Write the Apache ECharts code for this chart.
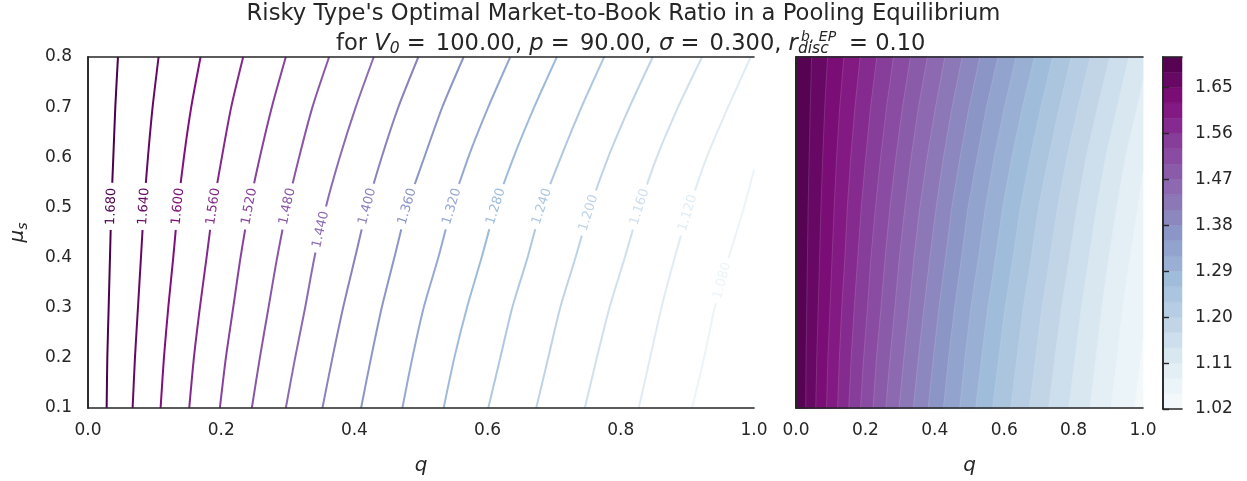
<!DOCTYPE html>
<html>
<head>
<meta charset="utf-8">
<script src="https://cdn.jsdelivr.net/npm/echarts@6/dist/echarts.min.js"></script>
<style>
html, body { margin: 0; padding: 0; background: #fff; }
#chart { width: 1247px; height: 481px; }
</style>
</head>
<body>
<div id="chart"></div>
<script>
const muRows = [0.1, 0.2, 0.3, 0.4, 0.5, 0.6, 0.7, 0.8];

// left panel: contour lines, q of each level on every mu row (null = past the right edge)
const lineLevels = [1.04, 1.08, 1.12, 1.16, 1.20, 1.24, 1.28, 1.32, 1.36, 1.40, 1.44, 1.48, 1.52, 1.56, 1.60, 1.64, 1.68];
const lineQ = [
    [0.998, null, null, null, null, null, null, null],
    [0.907, 0.925, 0.941, 0.962, 0.985, null, null, null],
    [0.827, 0.844, 0.861, 0.881, 0.903, 0.929, 0.961, 0.995],
    [0.746, 0.764, 0.783, 0.806, 0.828, 0.854, 0.886, 0.922],
    [0.673, 0.691, 0.709, 0.732, 0.754, 0.781, 0.813, 0.848],
    [0.601, 0.619, 0.637, 0.660, 0.681, 0.710, 0.741, 0.775],
    [0.534, 0.550, 0.569, 0.591, 0.612, 0.639, 0.670, 0.704],
    [0.472, 0.487, 0.504, 0.526, 0.546, 0.571, 0.601, 0.634],
    [0.410, 0.425, 0.441, 0.460, 0.479, 0.505, 0.532, 0.564],
    [0.352, 0.367, 0.383, 0.401, 0.419, 0.441, 0.466, 0.496],
    [0.297, 0.311, 0.326, 0.340, 0.357, 0.378, 0.402, 0.429],
    [0.246, 0.258, 0.271, 0.284, 0.299, 0.317, 0.337, 0.362],
    [0.198, 0.207, 0.218, 0.229, 0.242, 0.258, 0.276, 0.297],
    [0.152, 0.159, 0.168, 0.178, 0.188, 0.201, 0.215, 0.233],
    [0.109, 0.114, 0.1205, 0.128, 0.135, 0.144, 0.155, 0.169],
    [0.067, 0.0705, 0.075, 0.0795, 0.084, 0.090, 0.097, 0.106],
    [0.028, 0.029, 0.031, 0.033, 0.035, 0.038, 0.041, 0.045]
];
// mu where a line leaves through the right edge
const lineExitMu = [0.115, 0.575, null, null, null, null, null, null, null, null, null, null, null, null, null, null, null];
// mu of the inline label on each line (null = no label)
const labelMu = [null, 0.354, 0.489, 0.501, 0.489, 0.502, 0.502, 0.502, 0.502, 0.502, 0.456, 0.502, 0.502, 0.502, 0.502, 0.502, 0.502];

// right panel: filled contour band edges
const fillEdges = [1.02, 1.05, 1.08, 1.11, 1.14, 1.17, 1.20, 1.23, 1.26, 1.29, 1.32, 1.35, 1.38, 1.41, 1.44, 1.47, 1.50, 1.53, 1.56, 1.59, 1.62, 1.65, 1.68, 1.71];
// q of the inner edges (1.05 ... 1.68) on every mu row
const fillQ = [
    [0.975, 0.993, null, null, null, null, null, null],
    [0.907, 0.925, 0.941, 0.962, 0.985, null, null, null],
    [0.847, 0.864, 0.881, 0.901, 0.924, 0.949, 0.983, null],
    [0.786, 0.804, 0.822, 0.844, 0.866, 0.892, 0.925, 0.959],
    [0.728, 0.746, 0.765, 0.788, 0.810, 0.836, 0.869, 0.904],
    [0.673, 0.691, 0.709, 0.732, 0.754, 0.781, 0.813, 0.848],
    [0.619, 0.637, 0.655, 0.678, 0.699, 0.728, 0.759, 0.793],
    [0.567, 0.585, 0.603, 0.626, 0.647, 0.675, 0.706, 0.740],
    [0.518, 0.535, 0.553, 0.575, 0.596, 0.622, 0.653, 0.687],
    [0.472, 0.487, 0.504, 0.526, 0.546, 0.571, 0.601, 0.634],
    [0.425, 0.440, 0.457, 0.477, 0.496, 0.522, 0.549, 0.582],
    [0.381, 0.396, 0.412, 0.431, 0.449, 0.473, 0.499, 0.530],
    [0.338, 0.353, 0.369, 0.386, 0.404, 0.425, 0.450, 0.479],
    [0.297, 0.311, 0.326, 0.340, 0.357, 0.378, 0.402, 0.429],
    [0.259, 0.271, 0.285, 0.298, 0.314, 0.332, 0.353, 0.379],
    [0.222, 0.232, 0.245, 0.257, 0.271, 0.288, 0.307, 0.330],
    [0.186, 0.195, 0.206, 0.216, 0.229, 0.244, 0.261, 0.281],
    [0.152, 0.159, 0.168, 0.178, 0.188, 0.201, 0.215, 0.233],
    [0.120, 0.125, 0.132, 0.141, 0.148, 0.158, 0.170, 0.185],
    [0.088, 0.092, 0.098, 0.104, 0.110, 0.117, 0.126, 0.138],
    [0.057, 0.060, 0.064, 0.068, 0.072, 0.077, 0.083, 0.091],
    [0.028, 0.029, 0.031, 0.033, 0.035, 0.038, 0.041, 0.045]
];
const fillExitMu = [0.24, 0.575, 0.755, null, null, null, null, null, null, null, null, null, null, null, null, null, null, null, null, null, null, null];

const cbarTicks = [1.02, 1.11, 1.20, 1.29, 1.38, 1.47, 1.56, 1.65];

const INK = '#262626';
const FONT = 'DejaVu Sans';

// matplotlib BuPu
const BUPU = ['#f7fcfd', '#e0ecf4', '#bfd3e6', '#9ebcda', '#8c96c6', '#8c6bb1', '#88419d', '#810f7c', '#4d004b'];
function hex2rgb(h) {
    return [parseInt(h.substr(1, 2), 16), parseInt(h.substr(3, 2), 16), parseInt(h.substr(5, 2), 16)];
}
function bupu(t) {
    t = Math.max(0, Math.min(1, t));
    let s = t * (BUPU.length - 1);
    let i = Math.min(Math.floor(s), BUPU.length - 2);
    let f = s - i;
    let a = hex2rgb(BUPU[i]), b = hex2rgb(BUPU[i + 1]);
    let c = a.map((v, k) => Math.round(v + (b[k] - v) * f));
    return 'rgb(' + c.join(',') + ')';
}
const lineMin = lineLevels[0], lineMax = lineLevels[lineLevels.length - 1];
const fillMin = fillEdges[0], fillMax = fillEdges[fillEdges.length - 1];
function lineColor(i) { return bupu((lineLevels[i] - lineMin) / (lineMax - lineMin)); }
function bandColor(k) { return bupu(((fillEdges[k] + fillEdges[k + 1]) / 2 - fillMin) / (fillMax - fillMin)); }

function pathPoints(row, exitMu) {
    let pts = [];
    row.forEach((q, i) => { if (q != null) pts.push([q, muRows[i]]); });
    if (exitMu != null) pts.push([1, exitMu]);
    return pts;
}
// q of a line at a given mu, for placing its label
function qAt(row, mu) {
    for (let i = 0; i < muRows.length - 1; i++) {
        if (mu >= muRows[i] && mu <= muRows[i + 1]) {
            let f = (mu - muRows[i]) / (muRows[i + 1] - muRows[i]);
            return row[i] + (row[i + 1] - row[i]) * f;
        }
    }
    return row[0];
}

let myChart = echarts.init(document.getElementById('chart'));

function frameAxis(grid, pos, min, max) {
    return {
        type: 'value', gridIndex: grid, position: pos, min: min, max: max, z: 10,
        axisLine: { show: true, lineStyle: { color: INK, width: 1.6 } },
        axisTick: { show: false }, axisLabel: { show: false }, splitLine: { show: false }
    };
}
const tickLabel = { color: INK, fontSize: 17, fontFamily: FONT };
const qName = { color: INK, fontSize: 20, fontFamily: FONT, fontStyle: 'italic' };

let series = [];

// contour lines
lineLevels.forEach((lv, i) => {
    series.push({
        type: 'line', xAxisIndex: 0, yAxisIndex: 0,
        data: pathPoints(lineQ[i], lineExitMu[i]),
        showSymbol: false, smooth: 0.25, silent: true, animation: false, z: 3,
        lineStyle: { color: lineColor(i), width: 2 }
    });
});

// inline labels
series.push({
    type: 'custom', xAxisIndex: 0, yAxisIndex: 0, z: 5, silent: true, animation: false,
    data: labelMu.map((m, i) => [i, m]).filter(d => d[1] != null),
    renderItem: function (params, api) {
        let i = api.value(0), m = api.value(1);
        let row = lineQ[i];
        let p = api.coord([qAt(row, m), m]);
        let a = api.coord([qAt(row, m - 0.05), m - 0.05]);
        let b = api.coord([qAt(row, m + 0.05), m + 0.05]);
        let ang = Math.atan2(a[1] - b[1], b[0] - a[0]);
        return {
            type: 'text', x: p[0], y: p[1], rotation: ang,
            style: {
                text: lineLevels[i].toFixed(3), fill: lineColor(i),
                fontSize: 13, fontFamily: FONT, align: 'center', verticalAlign: 'middle',
                backgroundColor: '#fff', padding: [0, 5]
            }
        };
    }
});

// filled contour
series.push({
    type: 'custom', xAxisIndex: 2, yAxisIndex: 2, z: 2, silent: true, animation: false,
    data: fillEdges.slice(0, -1).map((e, k) => [k, e]),
    renderItem: function (params, api) {
        let k = api.value(0);
        let col = bandColor(k);
        let pts, edge = null;
        if (k === 0) {
            pts = [[0, 0.1], [1, 0.1], [1, 0.8], [0, 0.8]];
        } else {
            edge = pathPoints(fillQ[k - 1], fillExitMu[k - 1]);
            pts = [[0, 0.1]].concat(edge);
            if (fillExitMu[k - 1] != null) pts.push([1, 0.8]);
            pts.push([0, 0.8]);
        }
        let children = [{
            type: 'polygon', z2: k * 2,
            shape: { points: pts.map(p => api.coord(p)) },
            style: { fill: col, stroke: col, lineWidth: 0.5 }
        }];
        if (edge) {
            children.push({
                type: 'polyline', z2: k * 2 + 1,
                shape: { points: edge.map(p => api.coord(p)) },
                style: { fill: null, stroke: 'rgba(255,255,255,0.22)', lineWidth: 0.7 }
            });
        }
        return { type: 'group', children: children };
    }
});

// colorbar
series.push({
    type: 'custom', xAxisIndex: 4, yAxisIndex: 4, z: 2, silent: true, animation: false,
    data: fillEdges.slice(0, -1).map((e, k) => [k, e]),
    renderItem: function (params, api) {
        let k = api.value(0);
        let lo = api.coord([0, fillEdges[k]]);
        let hi = api.coord([1, fillEdges[k + 1]]);
        let col = bandColor(k);
        return {
            type: 'rect',
            shape: { x: lo[0], y: hi[1], width: hi[0] - lo[0], height: lo[1] - hi[1] },
            style: { fill: col, stroke: col, lineWidth: 0.5 }
        };
    }
});

const tN = { color: INK, fontSize: 22.6, fontFamily: FONT, fontWeight: 'normal', lineHeight: 26 };
const tI = Object.assign({}, tN, { fontStyle: 'italic' });
const tS = { color: INK, fontSize: 15.5, fontFamily: FONT, fontWeight: 'normal', fontStyle: 'italic', lineHeight: 10, verticalAlign: 'bottom' };
const tW = { width: 3, lineHeight: 26 };
const tW2 = { width: 6, lineHeight: 26 };

myChart.setOption({
    backgroundColor: '#fff',
    animation: false,
    title: [{
        text: "Risky Type's Optimal Market-to-Book Ratio in a Pooling Equilibrium",
        left: 'center', top: 2, padding: 0,
        textStyle: { color: INK, fontSize: 22.7, fontWeight: 'normal', fontFamily: FONT, lineHeight: 24 }
    }, {
        text: '{n|for }{i|V}{s|0}{n| = }{w| }{n|100.00, }{i|p}{n| = }{w| }{n|90.00, }{i|σ}{n| = }{w| }{n|0.300, }{i|r}{s|disc}{n|  }{w2| }{n|= 0.10}',
        left: 336, top: 31, padding: 0, z: 20,
        textStyle: { fontWeight: 'normal', rich: { n: tN, i: tI, s: tS, w: tW, w2: tW2 } }
    }, {
        text: 'b, EP', left: 801, top: 30, padding: 0, z: 20,
        textStyle: { color: INK, fontSize: 14, fontFamily: FONT, fontStyle: 'italic', fontWeight: 'normal', lineHeight: 15 }
    }],
    grid: [
        { left: 85, right: 493, top: 57, bottom: 72 },
        { left: 796, right: 104, top: 57, bottom: 72 },
        { left: 1163, right: 65, top: 57, bottom: 72 }
    ],
    xAxis: [
        {
            type: 'value', gridIndex: 0, min: 0, max: 1, interval: 0.2, z: 10,
            axisLine: { show: true, lineStyle: { color: INK, width: 1.6 } },
            axisTick: { show: false }, splitLine: { show: false },
            axisLabel: Object.assign({ margin: 14, formatter: v => v.toFixed(1) }, tickLabel),
            name: 'q', nameLocation: 'middle', nameGap: 48, nameTextStyle: qName
        },
        frameAxis(0, 'top', 0, 1),
        {
            type: 'value', gridIndex: 1, min: 0, max: 1, interval: 0.2, z: 10,
            axisLine: { show: true, lineStyle: { color: INK, width: 1.6 } },
            axisTick: { show: false }, splitLine: { show: false },
            axisLabel: Object.assign({ margin: 14, formatter: v => v.toFixed(1) }, tickLabel),
            name: 'q', nameLocation: 'middle', nameGap: 48, nameTextStyle: qName
        },
        frameAxis(1, 'top', 0, 1),
        frameAxis(2, 'bottom', 0, 1),
        frameAxis(2, 'top', 0, 1)
    ],
    yAxis: [
        {
            type: 'value', gridIndex: 0, min: 0.1, max: 0.8, interval: 0.1, z: 10,
            axisLine: { show: true, lineStyle: { color: INK, width: 1.6 } },
            axisTick: { show: false }, splitLine: { show: false },
            axisLabel: Object.assign({ margin: 16, formatter: v => v.toFixed(1) }, tickLabel),
            name: '{i|μ}{s|s}', nameLocation: 'middle', nameGap: 58, nameRotate: 90,
            nameTextStyle: {
                rich: {
                    i: { color: INK, fontSize: 20, fontFamily: FONT, fontStyle: 'italic', lineHeight: 24 },
                    s: { color: INK, fontSize: 14, fontFamily: FONT, fontStyle: 'italic', lineHeight: 14, verticalAlign: 'bottom' }
                }
            }
        },
        frameAxis(0, 'right', 0.1, 0.8),
        frameAxis(1, 'left', 0.1, 0.8),
        frameAxis(1, 'right', 0.1, 0.8),
        frameAxis(2, 'left', fillMin, fillMax),
        {
            type: 'value', gridIndex: 2, position: 'right', min: fillMin, max: fillMax, z: 10,
            axisLine: { show: true, lineStyle: { color: INK, width: 1.6 } },
            axisTick: { show: true, length: 6, lineStyle: { color: INK, width: 1.4 }, customValues: cbarTicks },
            axisLabel: Object.assign({ margin: 13, customValues: cbarTicks, formatter: v => v.toFixed(2) }, tickLabel),
            splitLine: { show: false }
        }
    ],
    series: series
});
</script>
</body>
</html>
